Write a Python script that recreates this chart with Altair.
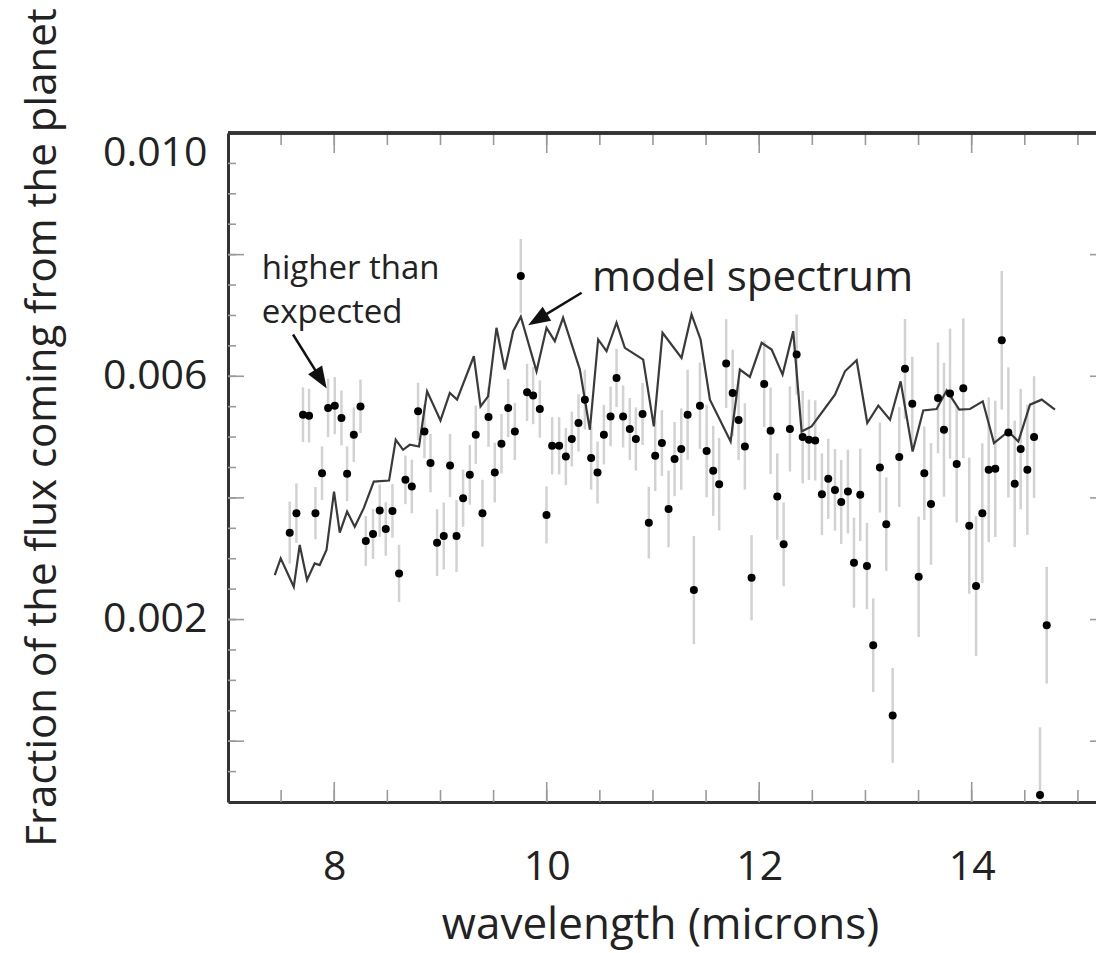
import math
import altair as alt
import pandas as pd

# ---------------- data ----------------
wavelength = [7.581, 7.644, 7.706, 7.763, 7.823, 7.885, 7.942, 8.005, 8.068, 8.121,
              8.184, 8.247, 8.297, 8.365, 8.428, 8.485, 8.548, 8.610, 8.670, 8.730,
              8.789, 8.849, 8.906, 8.968, 9.031, 9.090, 9.151, 9.213, 9.276, 9.332,
              9.395, 9.452, 9.511, 9.574, 9.637, 9.700, 9.756, 9.815, 9.872, 9.935,
              9.998, 10.051, 10.117, 10.180, 10.236, 10.299, 10.359, 10.418, 10.478, 10.538,
              10.601, 10.657, 10.719, 10.782, 10.839, 10.902, 10.961, 11.021, 11.084, 11.147,
              11.203, 11.266, 11.326, 11.385, 11.442, 11.505, 11.567, 11.623, 11.689, 11.750,
              11.806, 11.865, 11.928, 12.047, 12.107, 12.170, 12.230, 12.289, 12.352, 12.409,
              12.468, 12.527, 12.590, 12.650, 12.713, 12.772, 12.835, 12.892, 12.951, 13.014,
              13.073, 13.136, 13.196, 13.256, 13.318, 13.372, 13.441, 13.501, 13.554, 13.617,
              13.683, 13.739, 13.796, 13.859, 13.921, 13.977, 14.041, 14.100, 14.160, 14.222,
              14.283, 14.345, 14.405, 14.461, 14.524, 14.587, 14.643, 14.706]

flux = [0.003428, 0.003748, 0.005368, 0.005352, 0.003748, 0.004407, 0.005479, 0.005517, 0.005314, 0.004396,
        0.005039, 0.005505, 0.003292, 0.003407, 0.003791, 0.003489, 0.003786, 0.002759, 0.004297, 0.004187,
        0.005423, 0.005093, 0.004572, 0.003264, 0.003374, 0.004533, 0.003374, 0.003995, 0.004379, 0.005039,
        0.003748, 0.005330, 0.004417, 0.004890, 0.005479, 0.005093, 0.007648, 0.005736, 0.005682, 0.005462,
        0.003720, 0.004857, 0.004857, 0.004681, 0.004968, 0.005232, 0.005616, 0.004655, 0.004417, 0.005039,
        0.005340, 0.005973, 0.005340, 0.005133, 0.004968, 0.005380, 0.003593, 0.004693, 0.004902, 0.003819,
        0.004638, 0.004803, 0.005368, 0.002484, 0.005517, 0.004770, 0.004445, 0.004226, 0.006209, 0.005726,
        0.005281, 0.004846, 0.002687, 0.005874, 0.005105, 0.004022, 0.003237, 0.005133, 0.006357, 0.005001,
        0.004956, 0.004945, 0.004061, 0.004313, 0.004132, 0.003934, 0.004104, 0.002934, 0.004050, 0.002880,
        0.001577, 0.004500, 0.003567, 0.000424, 0.004671, 0.006122, 0.005550, 0.002703, 0.004407, 0.003901,
        0.005644, 0.005121, 0.005715, 0.004556, 0.005802, 0.003544, 0.002550, 0.003748, 0.004462, 0.004478,
        0.006593, 0.005077, 0.004231, 0.004803, 0.004462, 0.005001, -0.000883, 0.001907]

flux_err = [0.00051, 0.00049, 0.00045, 0.00044, 0.00043, 0.00044, 0.00048, 0.00047, 0.00045, 0.00045,
            0.00045, 0.00044, 0.00041, 0.00041, 0.00043, 0.00044, 0.00044, 0.00047, 0.00040, 0.00044,
            0.00047, 0.00044, 0.00048, 0.00055, 0.00055, 0.00052, 0.00059, 0.00047, 0.00049, 0.00048,
            0.00055, 0.00049, 0.00049, 0.00049, 0.00048, 0.00047, 0.00061, 0.00047, 0.00047, 0.00047,
            0.00047, 0.00047, 0.00047, 0.00047, 0.00045, 0.00047, 0.00049, 0.00052, 0.00051, 0.00049,
            0.00049, 0.00048, 0.00051, 0.00051, 0.00052, 0.00051, 0.00059, 0.00058, 0.00054, 0.00063,
            0.00061, 0.00067, 0.00074, 0.00089, 0.00071, 0.00076, 0.00074, 0.00076, 0.00073, 0.00071,
            0.00066, 0.00071, 0.00070, 0.00071, 0.00071, 0.00071, 0.00069, 0.00070, 0.00066, 0.00076,
            0.00066, 0.00066, 0.00067, 0.00066, 0.00067, 0.00069, 0.00069, 0.00074, 0.00076, 0.00071,
            0.00077, 0.00074, 0.00077, 0.00078, 0.00082, 0.00082, 0.00077, 0.00099, 0.00077, 0.00100,
            0.00091, 0.00110, 0.00107, 0.00096, 0.00115, 0.00112, 0.00115, 0.00115, 0.00119, 0.00112,
            0.00114, 0.00107, 0.00104, 0.00099, 0.00107, 0.00100, 0.00111, 0.00096]

model_wavelength = [7.440, 7.496, 7.619, 7.675, 7.744, 7.816, 7.863, 7.927, 7.998,
                    8.052, 8.121, 8.193, 8.278, 8.372, 8.516, 8.579, 8.648, 8.711, 8.798, 8.874,
                    9.000, 9.088, 9.156, 9.314, 9.377, 9.448, 9.527, 9.605, 9.684, 9.756, 9.904,
                    9.998,
                    10.076, 10.154, 10.312, 10.406, 10.484, 10.563, 10.657, 10.735, 10.908,
                    11.008, 11.090, 11.269, 11.363, 11.448, 11.536, 11.731, 11.818, 11.912,
                    12.023, 12.117, 12.220, 12.320, 12.399, 12.493, 12.713, 12.807, 12.917,
                    13.017, 13.121, 13.231, 13.331, 13.444, 13.544, 13.670, 13.765, 13.883, 13.984,
                    14.104, 14.210, 14.345, 14.439, 14.549, 14.659, 14.784]

model_flux = [0.002731, 0.003006, 0.002538, 0.003226, 0.002649, 0.002924, 0.002896, 0.003143, 0.004104,
              0.003428, 0.003775, 0.003527, 0.003831, 0.004269, 0.004285, 0.004956, 0.004791, 0.004874, 0.004846, 0.005752,
              0.005274, 0.005726, 0.005616, 0.006329, 0.005505, 0.005670, 0.006797, 0.006110, 0.006741, 0.006979, 0.006082,
              0.006797,
              0.006577, 0.006962, 0.006110, 0.005121, 0.006605, 0.006412, 0.006880, 0.006468, 0.006275,
              0.005176, 0.006715, 0.006303, 0.007017, 0.006605, 0.005616, 0.004928, 0.006110, 0.005990,
              0.006550, 0.006440, 0.006028, 0.006741, 0.005093, 0.005176, 0.005698, 0.006082, 0.006263,
              0.005232, 0.005517, 0.005286, 0.005917, 0.004763, 0.005439, 0.005462, 0.005769, 0.005451, 0.005462,
              0.005588, 0.004902, 0.005093, 0.004928, 0.005533, 0.005616, 0.005451]

x_label_values = [8, 10, 12, 14]
y_label_values = [0.002, 0.006, 0.010]
x_minor_ticks = [7.5, 8.0, 8.5, 9.0, 9.5, 10.0, 10.5, 11.0, 11.5, 12.0, 12.5, 13.0, 13.5, 14.0, 14.5, 15.0]
x_major_ticks = [8, 10, 12, 14]
y_minor_ticks = [-0.0005, 0.0, 0.0005, 0.001, 0.0015, 0.002, 0.0025, 0.003, 0.0035, 0.004, 0.0045,
                 0.005, 0.0055, 0.006, 0.0065, 0.007, 0.0075, 0.008, 0.0085, 0.009, 0.0095]
y_major_ticks = [0.0, 0.002, 0.004, 0.006, 0.008, 0.010]

note_left_lines = ["higher than", "expected"]
note_left_x = [7.317, 7.317]
note_left_y = [0.007594, 0.00688]
note_model_text = ["model spectrum"]
note_model_x = [10.425]
note_model_y = [0.0074]

arrow_start_x = [7.612, 10.328]
arrow_start_y = [0.006687, 0.007374]
arrow_tip_x = [7.929, 9.825]
arrow_tip_y = [0.005797, 0.006840]

# ---------------- layout ----------------
FONT = "Open Sans"
TXT = "#222222"
W, H = 868, 669
XD = [7.0, 15.17]
YD = [-0.001, 0.010]
HEAD = 22  # arrow head length in px

xs = alt.Scale(domain=XD, nice=False, zero=False)
ys = alt.Scale(domain=YD, nice=False, zero=False)

x_axis = alt.Axis(values=x_label_values, format="d", ticks=False, tickSize=0, grid=False,
                  domain=True, domainColor="#333333", domainWidth=3,
                  labelFont=FONT, labelFontSize=41, labelColor=TXT, labelPadding=45,
                  labelFlush=False, labelOverlap=False,
                  title="wavelength (microns)", titleFont=FONT, titleFontSize=44,
                  titleFontWeight="normal", titleColor=TXT, titleX=432, titleY=123,
                  titleAlign="center", titleBaseline="middle")
y_axis = alt.Axis(values=y_label_values, format=".3f", ticks=False, tickSize=0, grid=False,
                  domain=True, domainColor="#333333", domainWidth=3,
                  labelFont=FONT, labelFontSize=41, labelColor=TXT, labelPadding=21,
                  labelFlush=True, labelOverlap=False,
                  title="Fraction of the flux coming from the planet", titleFont=FONT,
                  titleFontSize=42, titleFontWeight="normal", titleColor=TXT,
                  titleAngle=270, titleX=-186, titleY=294, titleAlign="center",
                  titleBaseline="middle")

X = lambda f: alt.X(f, type="quantitative", scale=xs, axis=x_axis)
Y = lambda f: alt.Y(f, type="quantitative", scale=ys, axis=y_axis)

pts = pd.DataFrame({"x": wavelength, "y": flux, "e": flux_err})
pts["lo"] = pts["y"] - pts["e"]
pts["hi"] = pts["y"] + pts["e"]
model = pd.DataFrame({"x": model_wavelength, "y": model_flux})

bars = alt.Chart(pts).mark_rule(color="#d2d2d2", strokeWidth=2.5, clip=True).encode(
    x=X("x"), y=Y("lo"), y2="hi")
line = alt.Chart(model).mark_line(color="#3a3a3a", strokeWidth=2.2).encode(
    x=X("x"), y=Y("y"))
dots = alt.Chart(pts).mark_circle(color="#000000", size=64, opacity=1, clip=True).encode(
    x=X("x"), y=Y("y"))

t_left = alt.Chart(pd.DataFrame({"x": note_left_x, "y": note_left_y, "t": note_left_lines})).mark_text(
    font=FONT, fontSize=33, color=TXT, align="left", baseline="alphabetic").encode(
    x=X("x"), y=Y("y"), text="t:N")
t_model = alt.Chart(pd.DataFrame({"x": note_model_x, "y": note_model_y, "t": note_model_text})).mark_text(
    font=FONT, fontSize=42, color=TXT, align="left", baseline="alphabetic").encode(
    x=X("x"), y=Y("y"), text="t:N")

# arrows: shaft + filled head whose tip is at the symbol origin
kx = W / (XD[1] - XD[0])
ky = H / (YD[1] - YD[0])
shaft_rows, head_rows = [], []
for i, (x0, y0, x1, y1) in enumerate(zip(arrow_start_x, arrow_start_y, arrow_tip_x, arrow_tip_y)):
    dxp = (x1 - x0) * kx
    dyp = -(y1 - y0) * ky
    L = math.hypot(dxp, dyp)
    ang = math.degrees(math.atan2(dxp, -dyp)) % 360
    f = (L - HEAD * 0.6) / L
    shaft_rows.append({"g": i, "o": 0, "x": x0, "y": y0})
    shaft_rows.append({"g": i, "o": 1, "x": x0 + (x1 - x0) * f, "y": y0 + (y1 - y0) * f})
    head_rows.append({"x": x1, "y": y1, "a": ang})
shafts = alt.Chart(pd.DataFrame(shaft_rows)).mark_line(color="#111111", strokeWidth=2.5).encode(
    x=X("x"), y=Y("y"), detail="g:N", order="o:Q")
heads = alt.Chart(pd.DataFrame(head_rows)).mark_point(
    shape="M0,0L0.75,2L-0.75,2Z", filled=True, color="#111111", opacity=1, size=HEAD * HEAD).encode(
    x=X("x"), y=Y("y"), angle=alt.Angle("a:Q", scale=None))

# inward ticks and the top frame line
TICK = "#9a9a9a"
xmin = pd.DataFrame({"x": x_minor_ticks})
xmaj = pd.DataFrame({"x": x_major_ticks})
ymin = pd.DataFrame({"y": y_minor_ticks})
ymaj = pd.DataFrame({"y": y_major_ticks})
tk = dict(color=TICK, strokeWidth=1.6)
top_minor = alt.Chart(xmin).mark_rule(**tk).encode(x=X("x"), y=alt.value(0), y2=alt.value(12))
top_major = alt.Chart(xmaj).mark_rule(**tk).encode(x=X("x"), y=alt.value(0), y2=alt.value(20))
bot_minor = alt.Chart(xmin).mark_rule(**tk).encode(x=X("x"), y=alt.value(H), y2=alt.value(H - 12))
bot_major = alt.Chart(xmaj).mark_rule(**tk).encode(x=X("x"), y=alt.value(H), y2=alt.value(H - 20))
left_minor = alt.Chart(ymin).mark_rule(**tk).encode(y=Y("y"), x=alt.value(0), x2=alt.value(8))
left_major = alt.Chart(ymaj).mark_rule(**tk).encode(y=Y("y"), x=alt.value(0), x2=alt.value(16))
right_major = alt.Chart(ymaj).mark_rule(**tk).encode(y=Y("y"), x=alt.value(W), x2=alt.value(W - 6))
top_frame = alt.Chart(xmaj).mark_rule(color="#333333", strokeWidth=3).encode(
    x=alt.value(0), x2=alt.value(W), y=alt.value(0))

chart = alt.layer(
    bars, line, dots, t_left, t_model, shafts, heads,
    top_minor, top_major, bot_minor, bot_major, left_minor, left_major, right_major, top_frame
).properties(
    width=W, height=H,
    padding={"left": 228, "top": 133, "right": 0, "bottom": 151},
    autosize=alt.AutoSizeParams(type="none"),
    background="white",
).configure_view(stroke=None)

chart.save("out.html", embed_options={"renderer": "svg", "actions": False})
